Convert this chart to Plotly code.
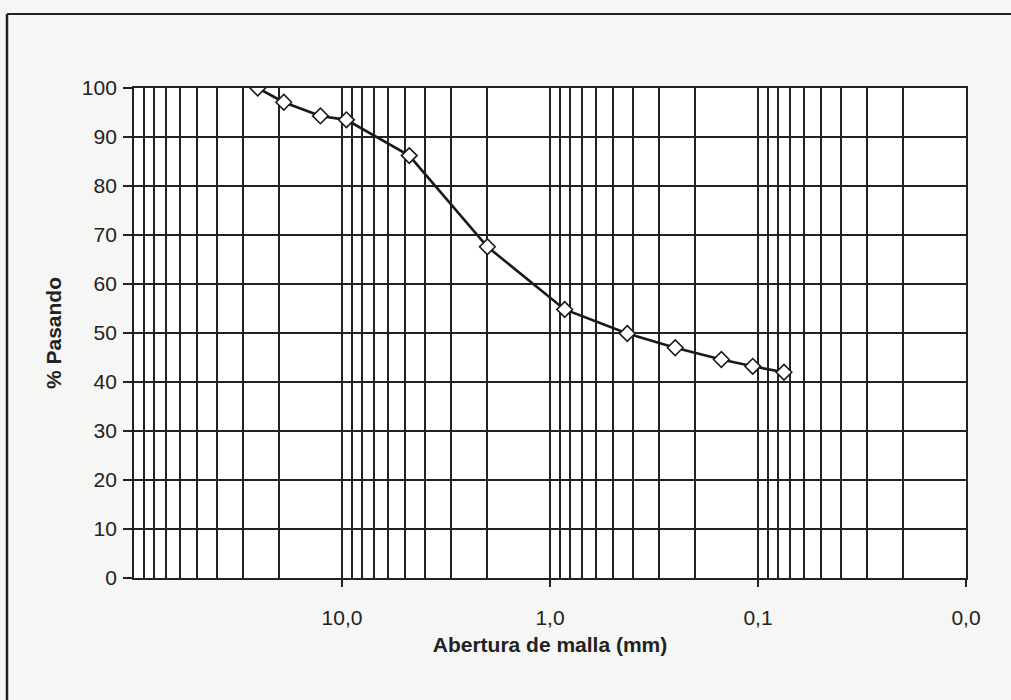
import plotly.graph_objects as go

# Data (sieve opening in mm, % passing)
abertura_mm = [25.4, 19.05, 12.7, 9.525, 4.75, 2.0, 0.85, 0.425, 0.25, 0.15, 0.106, 0.075]
pasando = [100.0, 97.1, 94.3, 93.5, 86.2, 67.6, 54.8, 49.9, 47.0, 44.6, 43.2, 42.0]

x_tickvals = [10, 1, 0.1, 0.01]
x_ticktext = ["10,0", "1,0", "0,1", "0,0"]
y_tickvals = [0, 10, 20, 30, 40, 50, 60, 70, 80, 90, 100]

minor_vals = [m * 10 ** e for e in (-2, -1, 0, 1) for m in range(2, 10)] + [100]

L, R, T, B = 134, 45, 88, 122
W, H = 1011, 700
pw, ph = W - L - R, H - T - B

def px(x):
    return (x - L) / pw

def py(y):
    return (H - B - y) / ph

fig = go.Figure()
fig.add_trace(go.Scatter(
    x=abertura_mm, y=pasando, mode="lines+markers",
    line=dict(color="#1a1a1a", width=2.6),
    marker=dict(symbol="diamond", size=12, color="white",
                line=dict(color="#1a1a1a", width=1.6)),
    showlegend=False,
))

font_family = "Arial, Liberation Sans, sans-serif"

fig.update_layout(
    width=W, height=H,
    margin=dict(l=L, r=R, t=T, b=B),
    paper_bgcolor="#f6f6f4",
    plot_bgcolor="white",
    font=dict(family=font_family, size=21, color="#222"),
    xaxis=dict(
        type="log", range=[2, -2], autorange=False,
        tickmode="array", tickvals=x_tickvals, ticktext=x_ticktext,
        tickfont=dict(size=21, color="#222"),
        ticks="outside", ticklen=7, tickwidth=1.5, tickcolor="#222",
        ticklabelstandoff=13,
        showgrid=True, gridcolor="#222", gridwidth=1.6,
        minor=dict(tickmode="array", tickvals=minor_vals, showgrid=True,
                   gridcolor="#222", gridwidth=1.6, ticks=""),
        showline=True, linecolor="#222", linewidth=1.8, mirror=True,
        title=dict(text="<b>Abertura de malla (mm)</b>", standoff=9,
                   font=dict(size=21, color="#222")),
        zeroline=False,
    ),
    yaxis=dict(
        range=[0, 100], autorange=False,
        tickmode="array", tickvals=y_tickvals,
        tickfont=dict(size=21, color="#222"),
        ticks="outside", ticklen=9, tickwidth=1.5, tickcolor="#222",
        ticklabelstandoff=2,
        showgrid=True, gridcolor="#222", gridwidth=1.6,
        showline=True, linecolor="#222", linewidth=1.8, mirror=True,
        title=dict(text="<b>% Pasando</b>", standoff=15,
                   font=dict(size=21, color="#222")),
        zeroline=False,
    ),
    shapes=[
        dict(type="line", xref="paper", yref="paper",
             x0=px(7), x1=px(1011), y0=py(14), y1=py(14),
             line=dict(color="#222", width=2)),
        dict(type="line", xref="paper", yref="paper",
             x0=px(7), x1=px(7), y0=py(14), y1=py(700),
             line=dict(color="#222", width=2.5)),
    ],
)

fig.write_html("out.html")
